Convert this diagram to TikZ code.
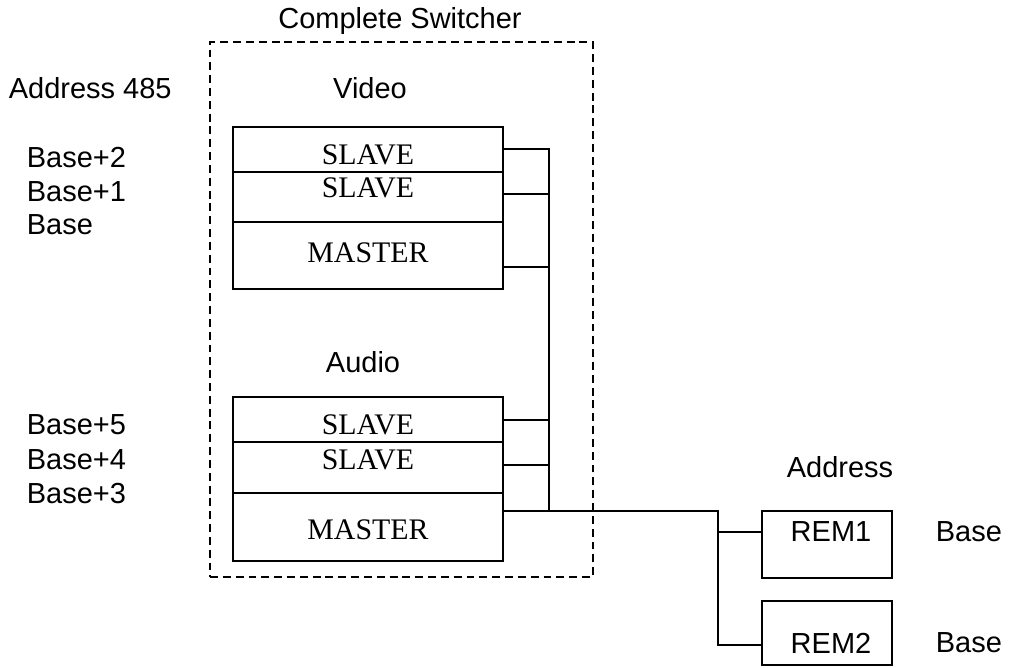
\documentclass[tikz,border=0pt]{standalone}
\usepackage{fontspec}
\setmainfont{Liberation Sans}
\newfontfamily\timesfont{Liberation Serif}
\usetikzlibrary{positioning}

\tikzset{
  lbl/.style={font=\fontsize{16.5}{20}\selectfont, inner sep=0pt},
  card/.style={draw, rectangle, minimum width=5.4cm, inner sep=0pt, outer sep=0pt},
  cardtxt/.style={font=\timesfont\fontsize{17}{20}\selectfont, inner sep=0pt},
  rem/.style={draw, rectangle, minimum width=2.6cm, inner sep=0pt, outer sep=0pt},
}

\begin{document}
\begin{tikzpicture}[x=0.02cm, y=-0.02cm, line width=1pt]
  \useasboundingbox (0,0) rectangle (1026,668);

  % switcher frame
  \node[draw, dashed, dash pattern=on 4.5pt off 2.8pt, minimum width=7.66cm, minimum height=10.7cm,
        inner sep=0pt] (sw) at (401.5,309.5) {};
  \node[lbl] (swtitle) at (400,21) {Complete Switcher};

  % video stack
  \node[lbl] (video) at (370,88) {Video};
  \node[card, minimum height=0.9cm, anchor=north west] (vs1) at (233,127) {};
  \node[card, minimum height=1cm, below=0pt of vs1] (vs2) {};
  \node[card, minimum height=1.34cm, below=0pt of vs2] (vm) {};
  \node[cardtxt] (tvs1) at (368,155) {SLAVE};
  \node[cardtxt] (tvs2) at (368,188) {SLAVE};
  \node[cardtxt] (tvm) at (368,253) {MASTER};

  % audio stack
  \node[lbl] (audio) at (363,362) {Audio};
  \node[card, minimum height=0.9cm, anchor=north west] (as1) at (233,397) {};
  \node[card, minimum height=1.02cm, below=0pt of as1] (as2) {};
  \node[card, minimum height=1.36cm, below=0pt of as2] (am) {};
  \node[cardtxt] (tas1) at (368,425) {SLAVE};
  \node[cardtxt] (tas2) at (368,460) {SLAVE};
  \node[cardtxt] (tam) at (368,530) {MASTER};

  % 485 addresses
  \node[lbl, anchor=west] (addr) at (8,88) {Address 485};
  \node[lbl, anchor=west] (v2) at (26,158) {Base+2};
  \node[lbl, anchor=west] (v1) at (26,192) {Base+1};
  \node[lbl, anchor=west] (v0) at (26,225) {Base};
  \node[lbl, anchor=west] (a5) at (26,425) {Base+5};
  \node[lbl, anchor=west] (a4) at (26,460) {Base+4};
  \node[lbl, anchor=west] (a3) at (26,494) {Base+3};

  % remotes
  \node[lbl] (raddr) at (840,467) {Address};
  \node[rem, minimum height=1.34cm, anchor=north west] (rem1) at (762,511) {};
  \node[rem, minimum height=1.28cm, anchor=north west] (rem2) at (762,601) {};
  \node[lbl] (trem1) at (831,532) {REM1};
  \node[lbl] (trem2) at (831,643) {REM2};
  \node[lbl, anchor=west] (rb1) at (935,532) {Base};
  \node[lbl, anchor=west] (rb2) at (935,643) {Base};

  % bus
  \coordinate (b1) at (549,149);
  \coordinate (b2) at (549,194);
  \coordinate (b3) at (549,267);
  \coordinate (b4) at (549,420);
  \coordinate (b5) at (549,465);
  \coordinate (b6) at (549,511);
  \coordinate (tap) at (718,511);
  \coordinate (j1) at (718,532);
  \coordinate (j2) at (718,645);

  \draw (vs1.east |- b1) -- (b1) -- (b6);
  \foreach \s/\b in {vs2/b2, vm/b3, as1/b4, as2/b5}
    \draw (\s.east |- \b) -- (\b);
  \draw (am.east |- b6) -- (b6) -- (tap) -- (j2) -- (j2 -| rem2.west);
  \draw (j1) -- (j1 -| rem1.west);
\end{tikzpicture}
\end{document}
